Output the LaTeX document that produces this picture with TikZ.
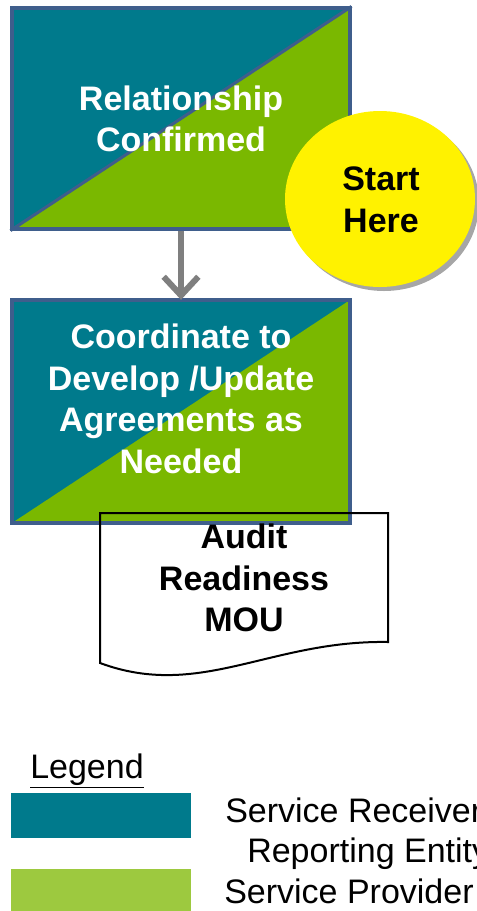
\documentclass[tikz,border=0pt]{standalone}
\usepackage{fontspec}
\setmainfont{Liberation Sans}
\usetikzlibrary{arrows.meta,shadows,shapes.geometric}
\definecolor{recvcol}{HTML}{007A8C}
\definecolor{provcol}{HTML}{7AB800}
\definecolor{legprov}{HTML}{9DC93F}
\definecolor{bordcol}{HTML}{3F5E8C}
\definecolor{arrcol}{HTML}{7F7F7F}
\tikzset{
  bigtext/.style={font=\fontsize{25.5}{31.1}\selectfont\bfseries, align=center, inner sep=0pt},
  legtext/.style={font=\fontsize{25.5}{31.1}\selectfont, inner sep=0pt, anchor=base west},
  splitbox/.style={rectangle, fill=recvcol, draw=bordcol, line width=2.3pt,
     minimum width=253.5pt, inner sep=0pt,
     path picture={\fill[provcol] (path picture bounding box.south west) -- (path picture bounding box.north east) |- cycle;}},
  arrowline/.style={draw=arrcol, line width=4.5pt, -{Straight Barb[length=14pt,width=26pt]}},
}
\begin{document}
\begin{tikzpicture}[x=0.75pt,y=-0.75pt]
\useasboundingbox (0,0) rectangle (477,911);
% top box
\node[splitbox, minimum height=165.75pt] (rel) at (181,118.5) {};
\draw[bordcol, line width=2.3pt] (rel.south west) -- (rel.north east);
\node[bigtext, text=white] (reltxt) at (181,119) {Relationship\\Confirmed};
% start circle
\node[ellipse, fill=yellow, minimum width=142.5pt, minimum height=132pt, inner sep=0pt,
      drop shadow={shadow xshift=3pt, shadow yshift=-3pt, opacity=0.35, fill=black}] (start) at (380,199) {};
\node[bigtext, text=black] (starttxt) at (381,200) {Start\\Here};
% second box
\node[splitbox, minimum height=167.25pt] (coord) at (181,411.5) {};
\node[bigtext, text=white] (coordtxt) at (181,399) {Coordinate to\\Develop /Update\\Agreements as\\Needed};
% arrow
\draw[arrowline] (rel.south) -- ([yshift=-1pt]coord.north);
% document
\draw[black, line width=1.5pt] (100,513) -- (388,513) -- (388,642)
   .. controls (270,640) and (200,700) .. (100,663) -- cycle;
\node[bigtext, text=black] (mou) at (244,578) {Audit\\Readiness\\MOU};
% legend
\node[legtext] (legend) at (30,778) {\underline{Legend}};
\fill[recvcol] (11,793) rectangle (191,838);
\fill[legprov] (11,869) rectangle (191,915);
\node[legtext] (recv) at (225,822) {Service Receiver};
\node[legtext] (rep) at (247,862) {Reporting Entity};
\node[legtext] (prov) at (224,903) {Service Provider};
\end{tikzpicture}
\end{document}
